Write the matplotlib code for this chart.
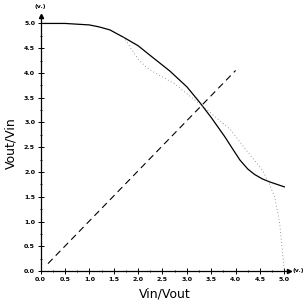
import numpy as np
import matplotlib.pyplot as plt
from matplotlib.ticker import MultipleLocator

# curva medida (linea continua)
x_solida = [0, 0.5, 1.0, 1.2, 1.42, 1.72, 2.0, 2.24, 2.65, 3.0, 3.26, 3.5, 3.78, 3.95, 4.09, 4.25, 4.39, 4.55, 4.7, 5.0]
y_solida = [5.0, 5.0, 4.97, 4.93, 4.87, 4.71, 4.55, 4.36, 4.04, 3.72, 3.41, 3.1, 2.71, 2.45, 2.24, 2.06, 1.95, 1.86, 1.8, 1.70]

# curva punteada
x_punteada = [1.7, 1.85, 2.0, 2.15, 2.3, 2.5, 2.75, 3.0, 3.3, 3.6, 3.9, 4.25, 4.55, 4.7, 4.8, 4.9, 4.97, 5.0]
y_punteada = [4.73, 4.5, 4.28, 4.13, 4.03, 3.92, 3.78, 3.58, 3.35, 3.1, 2.85, 2.4, 2.04, 1.74, 1.5, 1.0, 0.3, 0.0]

# recta discontinua
x_recta = [0.15, 4.0]
y_recta = [0.15, 4.05]

fig = plt.figure(figsize=(3.08, 3.08), dpi=100)
ax = fig.add_axes([0.132, 0.120, 0.807, 0.828])

ax.plot(x_solida, y_solida, color='black', lw=0.9)
ax.plot(x_punteada, y_punteada, color='#777777', lw=0.6, linestyle=(0, (1, 3)))
ax.plot(x_recta, y_recta, color='black', lw=0.8, linestyle=(0, (6, 4)))

ax.set_xlim(0, 5.1)
ax.set_ylim(0, 5.15)
ax.spines['top'].set_visible(False)
ax.spines['right'].set_visible(False)
for s in ['left', 'bottom']:
    ax.spines[s].set_linewidth(0.9)

# flechas en los ejes
ax.plot(1, 0, '>k', markersize=3, transform=ax.transAxes, clip_on=False)
ax.plot(0, 1, '^k', markersize=3, transform=ax.transAxes, clip_on=False)

ticks = np.arange(0, 5.01, 0.5)
ax.set_xticks(ticks)
ax.set_yticks(ticks)
ax.set_xticklabels(['%.1f' % v for v in ticks], fontweight='bold')
ax.set_yticklabels(['%.1f' % v for v in ticks], fontweight='bold')
ax.xaxis.set_minor_locator(MultipleLocator(0.25))
ax.yaxis.set_minor_locator(MultipleLocator(0.25))
ax.tick_params(which='major', direction='inout', length=4, width=0.7, labelsize=4.5, pad=2)
ax.tick_params(which='minor', direction='inout', length=2, width=0.6)

ax.text(-0.01, 5.35, '(v.)', fontsize=4.5, ha='center', va='center', fontweight='bold')
ax.text(5.28, 0.02, '(v.)', fontsize=4.5, ha='center', va='center', clip_on=False, fontweight='bold')

ax.set_xlabel('Vin/Vout', fontsize=9, labelpad=4)
ax.set_ylabel('Vout/Vin', fontsize=9, labelpad=5)

plt.savefig('out.png', dpi=100)
